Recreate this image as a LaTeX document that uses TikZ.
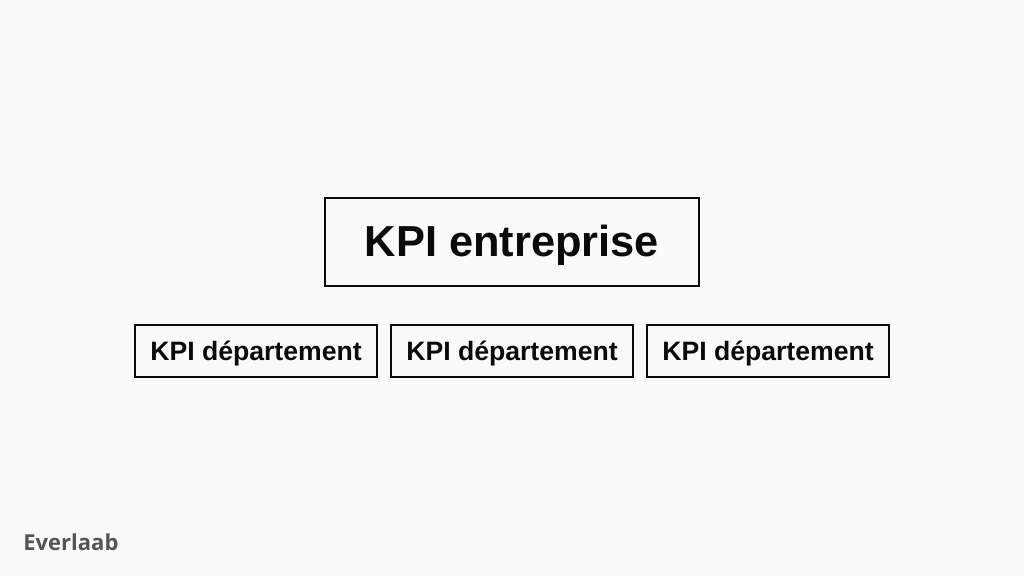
\documentclass[tikz,border=0pt]{standalone}
\usepackage{fontspec}
\setmainfont{Liberation Sans}
\newfontfamily\brandfont{Open Sans}
\definecolor{paper}{RGB}{250,250,250}
\definecolor{ink}{RGB}{10,10,10}
\definecolor{brand}{RGB}{85,85,85}
\begin{document}
\begin{tikzpicture}[x=1pt,y=-1pt,auto,thick]
        \tikzstyle{block} = [rectangle, draw=ink, line width=2pt, text=ink, inner sep=0pt, text depth=0pt]
        \tikzstyle{small} = [block, minimum width=242pt, minimum height=52pt, text height=18pt, font=\fontsize{26.6}{30}\selectfont\bfseries]

        \fill [paper] (0,0) rectangle (1024,576);
        \useasboundingbox (0,0) rectangle (1024,576);

        \node [block, minimum width=374pt, minimum height=88pt, text height=29pt, font=\fontsize{43.4}{48}\selectfont\bfseries] (node0) at (512,242) {KPI entreprise};

        \node [small] (node2) at (512,351) {KPI département};
        \node [small] (node1) at (256,351) {KPI département};
        \node [small] (node3) at (768,351) {KPI département};

        \node [text=brand, font=\brandfont\fontsize{22}{26}\selectfont\bfseries, anchor=west, inner sep=0pt] (label) at (23,542) {Everlaab};
    \end{tikzpicture}
\end{document}
